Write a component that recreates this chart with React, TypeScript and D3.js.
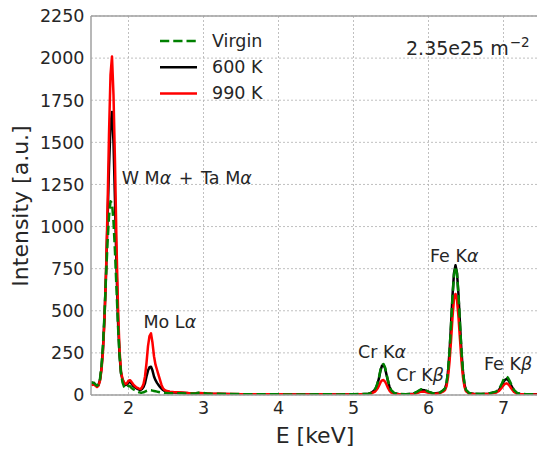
import React from 'react';
import * as d3 from 'd3';

// energy grid (keV)
const energy = [
  1.50, 1.52, 1.54, 1.56, 1.58, 1.60, 1.62, 1.64, 1.66, 1.68,
  1.70, 1.72, 1.74, 1.76, 1.78, 1.80, 1.82, 1.84, 1.86, 1.88,
  1.90, 1.92, 1.94, 1.96, 1.98, 2.00, 2.02, 2.04, 2.06, 2.08,
  2.10, 2.12, 2.14, 2.16, 2.18, 2.20, 2.22, 2.24, 2.26, 2.28,
  2.30, 2.32, 2.34, 2.36, 2.38, 2.40, 2.42, 2.44, 2.46, 2.48,
  2.50, 2.55, 2.60,
  2.70, 2.80, 2.90, 2.95, 3.00, 3.05, 3.10, 3.20, 3.30, 3.40,
  3.50, 3.60, 3.70, 3.80, 3.90, 4.00, 4.10, 4.20, 4.30, 4.40,
  4.50, 4.60, 4.70, 4.80, 4.90, 5.00, 5.10,
  5.20, 5.24, 5.28, 5.30, 5.32, 5.34, 5.36, 5.38, 5.40, 5.42,
  5.44, 5.46, 5.48, 5.50, 5.54, 5.60, 5.70, 5.80, 5.85, 5.90,
  5.95, 6.00, 6.05, 6.10, 6.15, 6.20, 6.22, 6.24, 6.26, 6.28,
  6.30, 6.32, 6.34, 6.36, 6.38, 6.40, 6.42, 6.44, 6.46, 6.48,
  6.50, 6.54, 6.60, 6.70, 6.80, 6.85, 6.90, 6.94, 6.98, 7.00,
  7.02, 7.04, 7.06, 7.08, 7.10, 7.14, 7.18, 7.22, 7.30, 7.40,
  7.50,
];

const virgin = [
  72, 74, 70, 62, 55, 62, 95, 170, 300, 480,
  700, 900, 1060, 1150, 1140, 1030, 850, 630, 410, 240,
  130, 75, 50, 40, 42, 55, 52, 42, 35, 30,
  25, 20, 16, 14, 14, 16, 20, 24, 27, 28,
  28, 26, 24, 22, 20, 18, 16, 14, 13, 12,
  12, 11, 10,
  10, 9, 10, 15, 12, 9, 8, 7, 6, 6,
  5, 5, 4, 4, 4, 4, 3, 3, 3, 3,
  4, 5, 4, 3, 4, 5, 6,
  8, 14, 30, 45, 70, 105, 150, 178, 184, 165,
  125, 85, 50, 30, 12, 6, 5, 8, 20, 34,
  30, 20, 12, 10, 14, 30, 40, 70, 140, 255,
  410, 580, 715, 762, 720, 590, 420, 260, 140, 65,
  30, 12, 8, 6, 9, 14, 20, 35, 70, 90,
  104, 109, 102, 86, 66, 30, 12, 7, 5, 4,
  4,
];

const k600 = [
  75, 70, 72, 60, 52, 60, 90, 160, 280, 460,
  720, 1030, 1350, 1600, 1680, 1500, 1150, 760, 440, 240,
  130, 90, 70, 60, 62, 75, 78, 68, 55, 48,
  42, 36, 32, 30, 36, 48, 70, 110, 145, 165,
  168, 145, 110, 88, 72, 60, 48, 38, 30, 25,
  22, 18, 15,
  13, 11, 9, 11, 10, 8, 7, 6, 6, 5,
  5, 4, 4, 4, 4, 3, 3, 3, 3, 3,
  3, 4, 3, 3, 3, 4, 5,
  8, 13, 28, 42, 66, 100, 145, 174, 178, 160,
  120, 82, 48, 28, 11, 6, 5, 8, 18, 30,
  28, 18, 11, 10, 13, 28, 38, 68, 138, 255,
  415, 590, 725, 770, 725, 595, 420, 255, 135, 62,
  28, 11, 7, 6, 8, 13, 18, 30, 60, 78,
  90, 95, 90, 76, 58, 26, 11, 6, 5, 4,
  4,
];

const k990 = [
  65, 60, 62, 55, 48, 55, 85, 150, 260, 450,
  720, 1100, 1550, 1900, 2010, 1780, 1380, 900, 520, 270,
  140, 95, 75, 65, 70, 85, 88, 78, 65, 55,
  48, 42, 38, 35, 45, 65, 110, 190, 290, 350,
  366, 310, 230, 180, 150, 120, 90, 60, 40, 30,
  25, 20, 18,
  15, 12, 10, 12, 10, 9, 8, 7, 6, 6,
  5, 5, 5, 4, 4, 4, 4, 3, 3, 3,
  3, 4, 3, 3, 3, 4, 5,
  6, 9, 18, 26, 38, 55, 75, 87, 89, 80,
  62, 42, 26, 16, 8, 5, 4, 6, 12, 20,
  19, 13, 9, 8, 11, 22, 30, 52, 105, 195,
  320, 460, 570, 600, 565, 460, 330, 200, 105, 48,
  22, 9, 6, 5, 7, 10, 14, 24, 45, 58,
  66, 69, 65, 55, 42, 18, 8, 5, 4, 3,
  3,
];

const xTicks = [2, 3, 4, 5, 6, 7];
const yTicks = [0, 250, 500, 750, 1000, 1250, 1500, 1750, 2000, 2250];

const seriesNames = ['Virgin', '600 K', '990 K'];

const peakLabels = [
  { main: 'W M', greek: 'α', rest: ' + Ta M', greek2: 'α', e: 1.91, v: 1250 },
  { main: 'Mo L', greek: 'α', e: 2.2, v: 395 },
  { main: 'Cr K', greek: 'α', e: 5.06, v: 218 },
  { main: 'Cr K', greek: 'β', e: 5.57, v: 82 },
  { main: 'Fe K', greek: 'α', e: 6.02, v: 790 },
  { main: 'Fe K', greek: 'β', e: 6.74, v: 148 },
];

const W = 537;
const H = 449;
const FONT = 'DejaVu Sans, sans-serif';

export default function App() {
  const x = d3.scaleLinear().domain([1.5, 7.5]).range([91, 541]);
  const y = d3.scaleLinear().domain([0, 2250]).range([395, 16]);

  const line = (vals: number[]) =>
    d3.line<number>()
      .x((_, i) => x(energy[i]))
      .y((d) => y(d))(vals) || '';

  const styles = [
    { vals: virgin, color: '#008000', dash: '9.25,4' },
    { vals: k600, color: '#000000', dash: undefined },
    { vals: k990, color: '#ff0000', dash: undefined },
  ];
  const drawOrder = [1, 2, 0];

  return (
    <svg width={W} height={H} style={{ position: 'absolute', left: 0, top: 0, background: '#fff' }}
      fontFamily={FONT}>
      <defs>
        <clipPath id="plot">
          <rect x={91} y={16} width={450} height={379} />
        </clipPath>
      </defs>
      {/* grid */}
      {xTicks.map((t) => (
        <line key={'gx' + t} x1={x(t)} x2={x(t)} y1={16} y2={395}
          stroke="#b0b0b0" strokeWidth={0.8} strokeDasharray="2,2" />
      ))}
      {yTicks.map((t) => (
        <line key={'gy' + t} x1={91} x2={541} y1={y(t)} y2={y(t)}
          stroke="#b0b0b0" strokeWidth={0.8} strokeDasharray="2,2" />
      ))}
      {/* spectra */}
      <g clipPath="url(#plot)">
        {drawOrder.map((k) => (
          <path key={k} d={line(styles[k].vals)} fill="none" stroke={styles[k].color}
            strokeWidth={2.5} strokeDasharray={styles[k].dash} strokeLinejoin="round" />
        ))}
      </g>
      {/* spines */}
      <line x1={91} x2={91} y1={16} y2={395} stroke="#a0a0a0" strokeWidth={1.5} />
      <line x1={91} x2={541} y1={395} y2={395} stroke="#a0a0a0" strokeWidth={1.5} />
      <line x1={91} x2={541} y1={16} y2={16} stroke="#a0a0a0" strokeWidth={1.5} />
      {/* tick labels */}
      {xTicks.map((t) => (
        <text key={'tx' + t} x={x(t)} y={413.5} fontSize={17.5} textAnchor="middle" fill="#262626">{t}</text>
      ))}
      {yTicks.map((t) => (
        <text key={'ty' + t} x={84.5} y={y(t)} dy="0.36em" fontSize={17.5} textAnchor="end" fill="#262626">{t}</text>
      ))}
      {/* axis titles */}
      <text x={315} y={443} fontSize={22} textAnchor="middle" fill="#262626">E [keV]</text>
      <text transform="translate(28,206) rotate(-90)" fontSize={22} textAnchor="middle" fill="#262626">Intensity [a.u.]</text>
      {/* peak labels */}
      {peakLabels.map((p, i) => (
        <text key={'pl' + i} x={x(p.e)} y={y(p.v)} fontSize={17.5} fill="#262626" style={{ whiteSpace: 'pre' }}>
          {p.main}<tspan fontStyle="italic">{p.greek}</tspan>
          {p.rest ? <tspan dx={2}>{' + '}</tspan> : null}
          {p.rest ? <tspan dx={2}>{'Ta M'}</tspan> : null}
          {p.greek2 ? <tspan fontStyle="italic">{p.greek2}</tspan> : null}
        </text>
      ))}
      {/* fluence */}
      <text x={406} y={55} fontSize={19} fill="#262626">
        2.35e25 m<tspan fontSize={13.5} dx={1} dy={-8}>−2</tspan>
      </text>
      {/* legend */}
      {seriesNames.map((n, i) => (
        <g key={n}>
          <line x1={160} x2={197} y1={41 + i * 26.3} y2={41 + i * 26.3} stroke={styles[i].color}
            strokeWidth={2.5} strokeDasharray={styles[i].dash} />
          <text x={212} y={46.8 + i * 26.3} fontSize={17.5} fill="#262626">{n}</text>
        </g>
      ))}
    </svg>
  );
}
